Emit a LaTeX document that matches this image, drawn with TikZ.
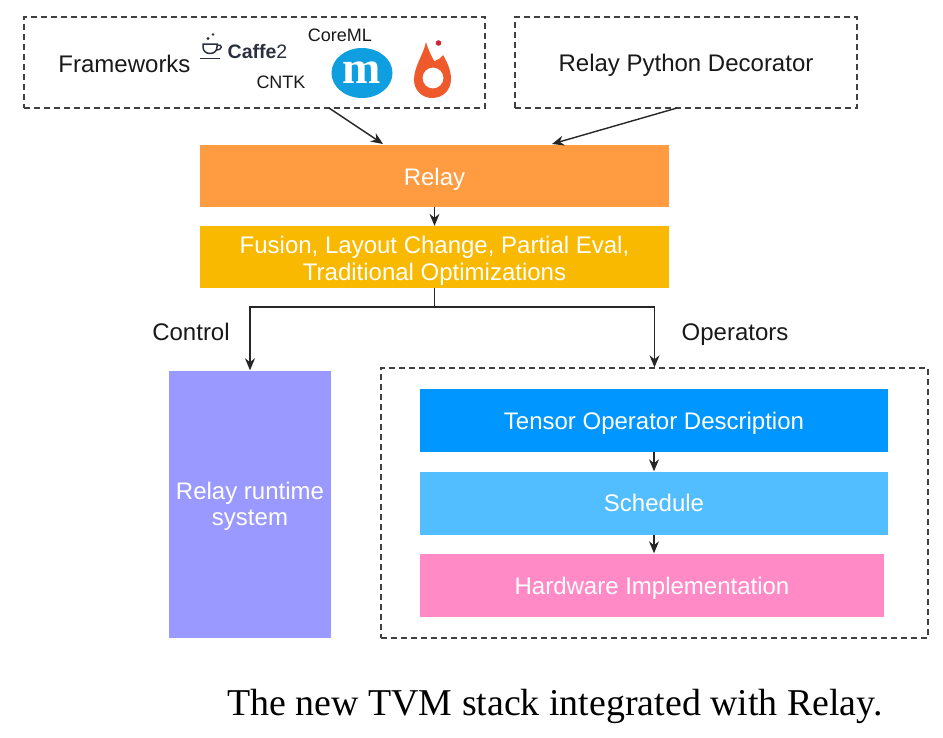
\documentclass[tikz,border=0pt]{standalone}
\usepackage{fontspec}
\setmainfont{Liberation Sans}
\newfontfamily\capfont{Liberation Serif}
\usetikzlibrary{arrows.meta,shapes.geometric}
\definecolor{cOr}{HTML}{FF9C42}
\definecolor{cYe}{HTML}{F8B900}
\definecolor{cPu}{HTML}{9999FF}
\definecolor{cB1}{HTML}{0096FF}
\definecolor{cB2}{HTML}{52BEFF}
\definecolor{cPk}{HTML}{FF8AC6}
\definecolor{cBk}{HTML}{0F9FE0}
\definecolor{cFl}{HTML}{EE5A2C}
\definecolor{cInk}{HTML}{2B3040}
\tikzset{
 fillbox/.style={minimum width=#1,inner sep=0pt},
 boxtext/.style={inner sep=0pt,text=white,align=center,font=\fontsize{24}{26.5}\selectfont},
 dbox/.style={draw=black!75,dash pattern=on 6pt off 4pt,line width=1.3pt,inner sep=0pt},
 conn/.style={-{Stealth[length=12pt,width=10pt]},line width=1.4pt,black!85},
 lab/.style={font=\fontsize{24}{28}\selectfont,text=black!90,inner sep=0pt},
 smalllab/.style={font=\fontsize{18}{20}\selectfont,text=black!90,inner sep=0pt},
}
\begin{document}
\begin{tikzpicture}[x=1pt,y=-1pt]
\useasboundingbox (0,0) rectangle (943,737);
\node[dbox,minimum width=461pt,minimum height=91pt] (fw) at (254.5,62.5) {};
\node[dbox,minimum width=342pt,minimum height=91pt] (dec) at (686,62.5) {};
\node[lab] (frameworks) at (124.5,64) {Frameworks};
\node[lab] (decl) at (686,65) {Relay Python Decorator};
\node[inner sep=0pt,text=cInk,font=\fontsize{19.5}{22}\selectfont] (caffe) at (257.5,52) {\textbf{Caffe}2};
\node[smalllab] (coreml) at (340,35) {CoreML};
\node[smalllab] (cntk) at (281,82) {CNTK};
\node[ellipse,fill=cBk,minimum width=61pt,minimum height=50pt,inner sep=0pt,text=white,font=\capfont\bfseries\fontsize{46}{46}\selectfont] (mx) at (362,73) {m};
% coffee cup
\draw[cInk,line width=1.6pt] (200,58.5) -- (220,58.5);
\draw[cInk,line width=1.5pt] (203,44) -- (203,47) .. controls (203,51) and (206,53.5) .. (210,53.5) .. controls (214,53.5) and (217,51) .. (217,47) -- (217,44) -- cycle;
\draw[cInk,line width=1.4pt] (217,45) .. controls (223,44) and (223,50) .. (216,50);
\fill[cInk] (208,38.5) circle (1.7pt) (213,34.5) circle (1.3pt);
% flame
\fill[cFl,even odd rule] (426,42) .. controls (428,49) and (431,55) .. (434,61) .. controls (438,60) and (441,58) .. (443,55) .. controls (447,62) and (451,70) .. (451,79) .. controls (451,90) and (443,98) .. (432,98) .. controls (422,98) and (414,90) .. (414,80) .. controls (414,66) and (423,56) .. (426,42) -- cycle
 (433,78) circle (10.5pt);
\fill[cFl!40!purple] (438.5,43) circle (2.8pt);

\node[fill=cOr,minimum height=62pt,fillbox=469pt] (relay) at (434.5,175.5) {};
\node[boxtext] (relayt) at (434.5,179) {Relay};
\node[fill=cYe,minimum height=62pt,fillbox=469pt] (fusion) at (434.5,257) {};
\node[boxtext] (fusiont) at (434.5,261) {Fusion, Layout Change, Partial Eval,\\Traditional Optimizations};
\node[fill=cPu,minimum height=267pt,fillbox=162pt] (rt) at (250,504) {};
\node[boxtext] (rtt) at (250,506.5) {Relay runtime\\system};
\node[dbox,minimum width=547pt,minimum height=270pt] (ops) at (654.5,503) {};
\node[fill=cB1,minimum height=63pt,fillbox=468pt] (tod) at (654,420.5) {};
\node[boxtext] (todt) at (654,423.5) {Tensor Operator Description};
\node[fill=cB2,minimum height=63pt,fillbox=468pt] (sch) at (654,503) {};
\node[boxtext] (scht) at (654,503) {Schedule};
\node[fill=cPk,minimum height=63pt,fillbox=464pt] (hw) at (652,585) {};
\node[boxtext] (hwt) at (652,588) {Hardware Implementation};
\node[lab] (control) at (191,332) {Control};
\node[lab] (operators) at (735,335) {Operators};
\node[inner sep=0pt,font=\capfont\fontsize{37.9}{40}\selectfont] (cap) at (555,706) {The new TVM stack integrated with Relay.};

\coordinate (fwout) at (329,108);
\coordinate (relayin1) at (383,144);
\coordinate (decout) at (677,108);
\coordinate (relayin2) at (552,144);
\draw[conn] (fwout) -- (relayin1);
\draw[conn] (decout) -- (relayin2);
\draw[conn] (relay.south) -- (fusion.north);
\draw[conn] (fusion.south) -- (434.5,307) -| (rt.north);
\draw[conn] (fusion.south) -- (434.5,307) -| (ops.north);
\draw[conn] (tod.south) -- (sch.north);
\draw[conn] (sch.south) -- (hw.north-|sch.south);
\end{tikzpicture}
\end{document}
